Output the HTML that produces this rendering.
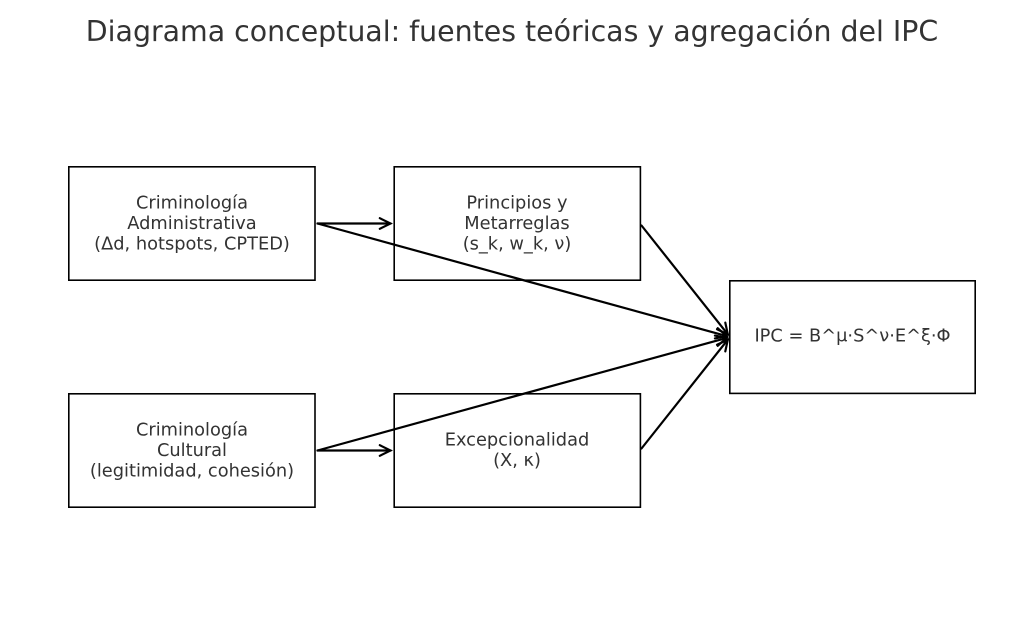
<!DOCTYPE html>
<html>
<head>
<meta charset="utf-8">
<style>
  html, body { margin: 0; padding: 0; background: #ffffff; }
  body { width: 1024px; height: 640px; overflow: hidden; }
  svg { display: block; }
  text { font-family: "DejaVu Sans", "Liberation Sans", sans-serif; fill: #333333; }
</style>
</head>
<body>
<svg width="1024" height="640" viewBox="0 0 1024 640" xmlns="http://www.w3.org/2000/svg">
  <rect x="0" y="0" width="1024" height="640" fill="#ffffff"/>

  <!-- Title -->
  <text x="512" y="41" font-size="28.4" text-anchor="middle">Diagrama conceptual: fuentes teóricas y agregación del IPC</text>

  <!-- Boxes -->
  <g fill="#ffffff" stroke="#000000" stroke-width="1.6">
    <rect x="68.8" y="166.8" width="246.2" height="113.4"/>
    <rect x="394.2" y="166.8" width="246.2" height="113.4"/>
    <rect x="729.8" y="280.8" width="245.4" height="112.6"/>
    <rect x="68.8" y="393.8" width="246.2" height="113.4"/>
    <rect x="394.2" y="393.8" width="246.2" height="113.4"/>
  </g>

  <!-- Box labels -->
  <g font-size="17.8" text-anchor="middle">
    <text x="192" y="208.5">Criminología</text>
    <text x="192" y="229">Administrativa</text>
    <text x="192" y="249.5">(Δd, hotspots, CPTED)</text>

    <text x="517" y="208.5">Principios y</text>
    <text x="517" y="229">Metarreglas</text>
    <text x="517" y="249.5">(s_k, w_k, ν)</text>

    <text x="852.5" y="341.5">IPC = B^μ·S^ν·E^ξ·Φ</text>

    <text x="192" y="435.5">Criminología</text>
    <text x="192" y="456">Cultural</text>
    <text x="192" y="476.5">(legitimidad, cohesión)</text>

    <text x="517" y="445.5">Excepcionalidad</text>
    <text x="517" y="466">(X, κ)</text>
  </g>

  <!-- Arrows -->
  <g fill="none" stroke="#000000" stroke-width="2.2" stroke-linecap="round" stroke-linejoin="miter">
    <!-- A1 -->
    <line x1="317.5" y1="223.5" x2="390.5" y2="223.5"/>
    <polyline points="379.8,218.2 390.5,223.5 379.8,228.8"/>
    <!-- A2 -->
    <line x1="317.5" y1="223.5" x2="726.6" y2="336.1"/>
    <polyline points="714.9,338.4 726.6,336.1 717.7,328.2"/>
    <!-- A3 -->
    <line x1="641.5" y1="225.5" x2="727.8" y2="334.3"/>
    <polyline points="717.0,329.2 727.8,334.3 725.3,322.6"/>
    <!-- A4 -->
    <line x1="317.5" y1="450.5" x2="390.5" y2="450.5"/>
    <polyline points="379.8,445.2 390.5,450.5 379.8,455.8"/>
    <!-- A5 -->
    <line x1="317.5" y1="450.5" x2="726.6" y2="337.9"/>
    <polyline points="717.7,345.8 726.6,337.9 714.9,335.6"/>
    <!-- A6 -->
    <line x1="641.5" y1="448.5" x2="727.8" y2="339.7"/>
    <polyline points="725.3,351.4 727.8,339.7 717.0,344.8"/>
  </g>
</svg>
</body>
</html>
